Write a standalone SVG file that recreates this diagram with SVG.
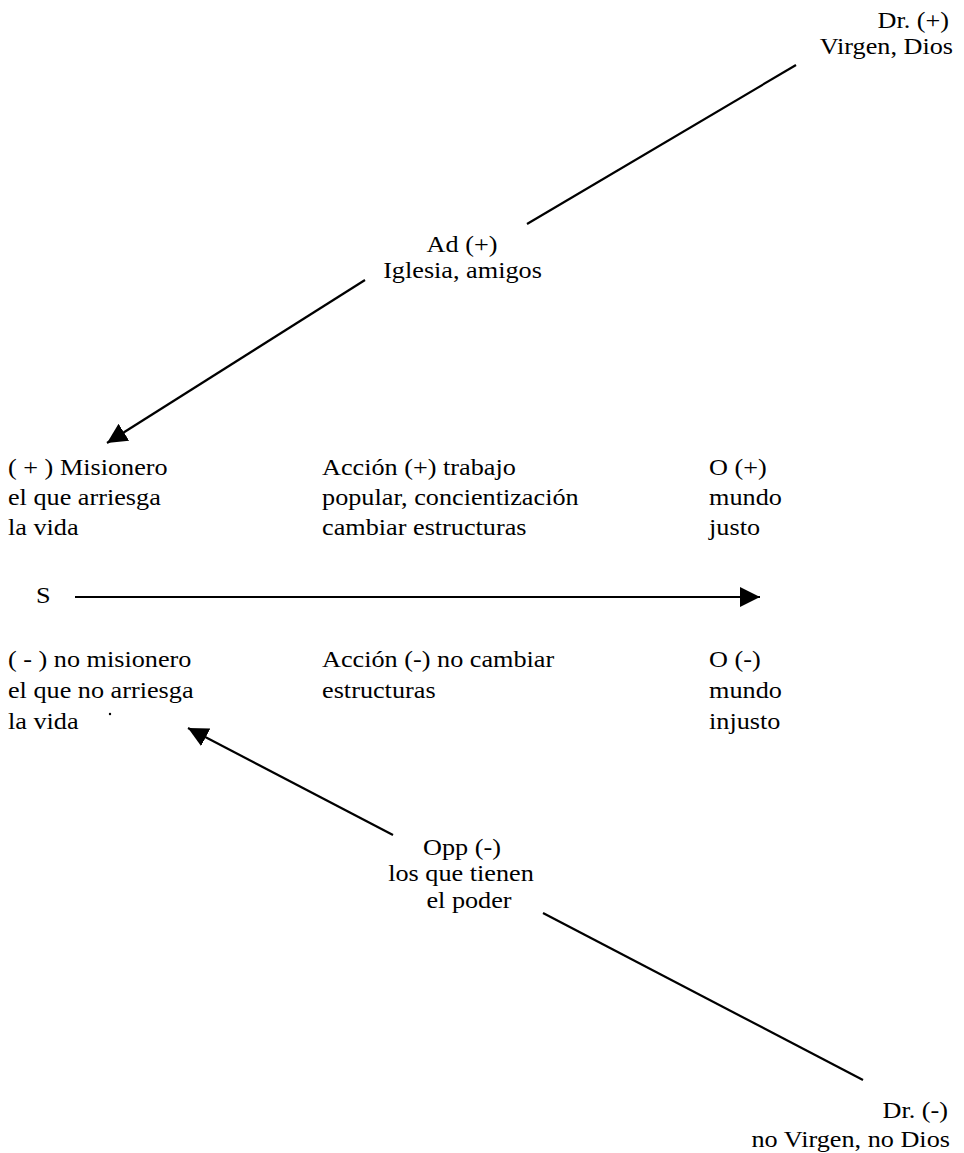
<svg xmlns="http://www.w3.org/2000/svg" width="964" height="1153" viewBox="0 0 964 1153">
<style>
  text { font-family: "Liberation Serif", "Times New Roman", serif; font-size: 23px; fill: #000; }
  .mid { text-anchor: middle; }
  .end { text-anchor: end; }
  .conn { stroke: #000; stroke-width: 2.2; fill: none; }
</style>
<defs>
  <marker id="arrow" markerUnits="userSpaceOnUse" markerWidth="24" markerHeight="22" refX="20" refY="10" orient="auto">
    <path d="M0,0 L20,10 L0,20 Z" fill="#000"/>
  </marker>
</defs>
<rect width="964" height="1153" fill="#fff"/>
<g id="connectors">
  <line class="conn" x1="796" y1="65" x2="527" y2="224"/>
  <line class="conn" x1="365" y1="280" x2="107" y2="443" marker-end="url(#arrow)"/>
  <line class="conn" x1="75" y1="597" x2="760" y2="597" marker-end="url(#arrow)"/>
  <line class="conn" x1="393" y1="835" x2="188" y2="728" marker-end="url(#arrow)"/>
  <line class="conn" x1="543" y1="913" x2="863" y2="1080"/>
</g>
<circle cx="110" cy="714" r="1.2" fill="#000"/>
<g transform="scale(1.14,1)">
  <g id="dr-plus">
    <text class="end" x="832.5" y="28">Dr. (+)</text>
    <text class="end" x="836" y="54">Virgen, Dios</text>
  </g>
  <g id="ad-plus">
    <text class="mid" x="405.3" y="252">Ad (+)</text>
    <text class="mid" x="405.7" y="278">Iglesia, amigos</text>
  </g>
  <g id="sujeto-plus">
    <text x="7" y="475">( + ) Misionero</text>
    <text x="7" y="505">el que arriesga</text>
    <text x="7" y="535">la vida</text>
  </g>
  <g id="accion-plus">
    <text x="282.5" y="475">Acción (+) trabajo</text>
    <text x="282.5" y="505">popular, concientización</text>
    <text x="282.5" y="535">cambiar estructuras</text>
  </g>
  <g id="objeto-plus">
    <text x="622" y="475">O (+)</text>
    <text x="622" y="505">mundo</text>
    <text x="622" y="535">justo</text>
  </g>
  <g id="s">
    <text x="31.6" y="603">S</text>
  </g>
  <g id="sujeto-minus">
    <text x="7" y="667">( - ) no misionero</text>
    <text x="7" y="698">el que no arriesga</text>
    <text x="7" y="729">la vida</text>
  </g>
  <g id="accion-minus">
    <text x="282.5" y="667">Acción (-) no cambiar</text>
    <text x="282.5" y="698">estructuras</text>
  </g>
  <g id="objeto-minus">
    <text x="622" y="667">O (-)</text>
    <text x="622" y="698">mundo</text>
    <text x="622" y="729">injusto</text>
  </g>
  <g id="opp-minus">
    <text class="mid" x="405.3" y="855">Opp (-)</text>
    <text class="mid" x="404.4" y="881">los que tienen</text>
    <text class="mid" x="411.4" y="908">el poder</text>
  </g>
  <g id="dr-minus">
    <text class="end" x="831.6" y="1118">Dr. (-)</text>
    <text class="end" x="833.3" y="1147">no Virgen, no Dios</text>
  </g>
</g>
</svg>
